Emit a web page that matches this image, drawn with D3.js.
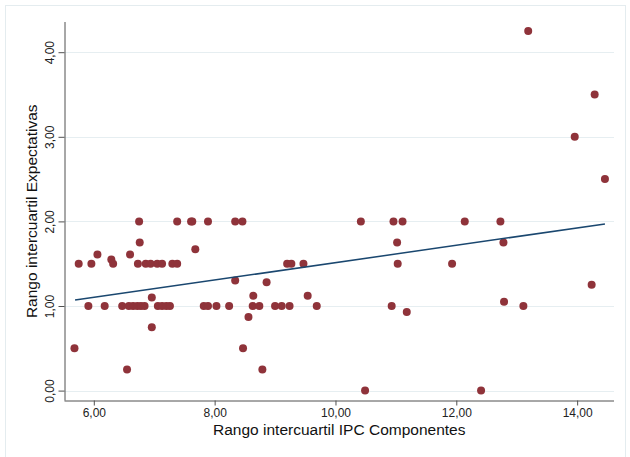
<!DOCTYPE html>
<html>
<head>
<meta charset="utf-8">
<script src="https://cdn.jsdelivr.net/npm/d3@7"></script>
<style>
  body { margin: 0; background: #fff; }
  text { font-family: "Liberation Sans", Arial, sans-serif; }
</style>
</head>
<body>
<div id="chart"></div>
<script>
//Data
let ipcRange = [5.68, 5.75, 5.91, 5.96, 6.06, 6.18, 6.29, 6.32, 6.47, 6.55,
  6.60, 6.58, 6.65, 6.72, 6.78, 6.84, 6.75, 6.76, 6.73, 6.86,
  6.94, 6.96, 6.96, 7.05, 7.13, 7.06, 7.13, 7.20, 7.26, 7.30,
  7.38, 7.38, 7.61, 7.63, 7.68, 7.82, 7.89, 7.89, 8.03, 8.24,
  8.34, 8.34, 8.46, 8.47, 8.56, 8.63, 8.64, 8.74, 8.79, 8.86,
  9.00, 9.11, 9.24, 9.20, 9.27, 9.47, 9.54, 9.69, 10.42, 10.49,
  10.96, 11.11, 11.02, 11.03, 10.93, 11.18, 11.93, 12.14, 12.41, 12.73,
  12.78, 12.79, 13.11, 14.24, 14.46, 14.29, 13.96, 13.19];

let expRange = [0.50, 1.50, 1.00, 1.50, 1.61, 1.00, 1.55, 1.50, 1.00, 0.25,
  1.61, 1.00, 1.00, 1.00, 1.00, 1.00, 2.00, 1.75, 1.50, 1.50,
  1.50, 1.10, 0.75, 1.50, 1.50, 1.00, 1.00, 1.00, 1.00, 1.50,
  1.50, 2.00, 2.00, 2.00, 1.67, 1.00, 1.00, 2.00, 1.00, 1.00,
  1.30, 2.00, 2.00, 0.50, 0.87, 1.00, 1.12, 1.00, 0.25, 1.28,
  1.00, 1.00, 1.00, 1.50, 1.50, 1.50, 1.12, 1.00, 2.00, 0.00,
  2.00, 2.00, 1.75, 1.50, 1.00, 0.93, 1.50, 2.00, 0.00, 2.00,
  1.75, 1.05, 1.00, 1.25, 2.50, 3.50, 3.00, 4.25];

//Fitted line endpoints
let fitX = [5.69, 14.46];
let fitY = [1.07, 1.97];

let xTicks = [6, 8, 10, 12, 14];
let yTicks = [0, 1, 2, 3, 4];

let xTitle = "Rango intercuartil IPC Componentes";
let yTitle = "Rango intercuartil Expectativas";

let width = 630,
  height = 457;

let plot = { left: 64.5, right: 614, top: 22, bottom: 400.5 };

let fmt = d => d3.format(".2f")(d).replace(".", ",");

let svg = d3.select("#chart").append("svg")
  .attr("width", width)
  .attr("height", height);

//Outer frame
svg.append("rect")
  .attr("x", 5.5).attr("y", 5.5)
  .attr("width", 620).attr("height", 470)
  .attr("fill", "white")
  .attr("stroke", "#e4ecef");

let x = d3.scaleLinear().domain([5.515, 14.61]).range([plot.left, plot.right]);
let y = d3.scaleLinear().domain([-0.117, 4.357]).range([plot.bottom, plot.top]);

//Gridlines
svg.append("g")
  .selectAll("line")
  .data(yTicks)
  .enter().append("line")
  .attr("x1", plot.left).attr("x2", plot.right)
  .attr("y1", d => Math.round(y(d)) + 0.5)
  .attr("y2", d => Math.round(y(d)) + 0.5)
  .attr("stroke", "#e6eef1")
  .attr("stroke-width", 1.2);

//Y axis
let yAxis = svg.append("g")
  .attr("transform", "translate(" + plot.left + ",0)")
  .call(d3.axisLeft(y).tickValues(yTicks).tickFormat(fmt).tickSize(6).tickPadding(6));
yAxis.select(".domain").attr("d", "M0.5," + plot.top + "V" + plot.bottom);
yAxis.selectAll(".tick text")
  .attr("transform", "rotate(-90)")
  .attr("x", 0).attr("y", -11)
  .attr("dy", 0)
  .attr("text-anchor", "middle")
  .style("font-size", "12px")
  .attr("fill", "#222");

//X axis
let xAxis = svg.append("g")
  .attr("transform", "translate(0," + plot.bottom + ")")
  .call(d3.axisBottom(x).tickValues(xTicks).tickFormat(fmt).tickSize(5).tickPadding(3));
xAxis.select(".domain").attr("d", "M" + plot.left + ",0.5H" + plot.right);
xAxis.selectAll(".tick text")
  .style("font-size", "12px")
  .attr("fill", "#222");

svg.selectAll(".domain, .tick line").attr("stroke", "#505050");

//Points
svg.append("g")
  .selectAll("circle")
  .data(ipcRange.map((d, i) => [d, expRange[i]]))
  .enter().append("circle")
  .attr("cx", d => x(d[0]))
  .attr("cy", d => y(d[1]))
  .attr("r", 4)
  .attr("fill", "#8f333a");

//Fitted line
svg.append("path")
  .datum(fitX.map((d, i) => [d, fitY[i]]))
  .attr("d", d3.line().x(d => x(d[0])).y(d => y(d[1])))
  .attr("fill", "none")
  .attr("stroke", "#1a476f")
  .attr("stroke-width", 1.5);

//Axis titles
svg.append("text")
  .attr("x", (plot.left + plot.right) / 2)
  .attr("y", 435)
  .attr("text-anchor", "middle")
  .style("font-size", "15.5px")
  .attr("fill", "#111")
  .text(xTitle);

svg.append("text")
  .attr("transform", "translate(37," + (plot.top + plot.bottom) / 2 + ") rotate(-90)")
  .attr("text-anchor", "middle")
  .style("font-size", "15.5px")
  .attr("fill", "#111")
  .text(yTitle);
</script>
</body>
</html>
